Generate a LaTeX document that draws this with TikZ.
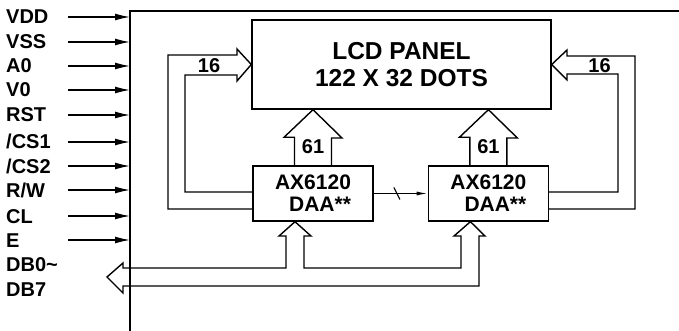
\documentclass[tikz,border=0pt]{standalone}
\usepackage{fontspec}
\setmainfont{Liberation Sans}
\usetikzlibrary{arrows.meta,positioning}

\begin{document}
\begin{tikzpicture}[
    x=1pt, y=-1pt,
    box/.style={rectangle, draw, line width=1.4pt, inner sep=0pt},
    chip/.style={minimum width=120pt, minimum height=55pt, align=right, font=\fontsize{21}{22}\selectfont\bfseries},
    pin/.style={anchor=west, inner sep=0pt, text height=14pt, text depth=0pt, font=\fontsize{20}{24}\selectfont\bfseries},
    num/.style={inner sep=0pt, font=\fontsize{20}{24}\selectfont\bfseries},
    bus/.style={line width=1.4pt, line join=miter},
    arrow/.style={-{Latex[length=15pt,width=7pt]}, line width=1.4pt},
    link/.style={-{Latex[length=11pt,width=4pt]}, line width=1.2pt}
]
    \useasboundingbox (0,0) rectangle (679,331);

    \coordinate (corner) at (130,11);
    \draw[line width=1.6pt] (130,331) -- (corner) -- (679,11);

    \foreach \y/\t [count=\i] in {17/VDD, 42/VSS, 66/A0, 90/V0, 115/RST, 142/{/CS1}, 166/{/CS2}, 190/{R/W}, 216/CL, 240/E} {
        \node[pin] (pin\i) at (6,\y) {\t};
        \coordinate (from\i) at (68,\y);
        \draw[arrow] (from\i) -- (from\i -| corner);
    }
    \node[pin] (db0) at (6,264) {DB0\textasciitilde};
    \node[pin] (db7) at (6,289) {DB7};

    \node[box, minimum width=299pt, minimum height=89pt, align=center, font=\fontsize{24.5}{27}\selectfont\bfseries] (lcd) at (401.5,64.5) {LCD PANEL\\122 X 32 DOTS};
    \node[box, chip] (chip1) at (313,193.5) {AX6120\\DAA**};
    \node[box, chip, right=54pt of chip1] (chip2) {AX6120\\DAA**};

    \foreach \c in {chip1, chip2} {
        \draw[bus] ([xshift=-18.5pt]\c.north) -- ++(0,-28) -- ++(-10.5,0) -- (\c.north |- lcd.south) -- ++(29,28.3) -- ++(-10.5,0) -- ([xshift=18.5pt]\c.north);
        \node[num] (w\c) at ([yshift=19pt]\c.north) {61};
    }

    \draw[bus] ([yshift=-15.5pt]chip1.west) -| (168,55) -- (237,55) -- (237,49) -- (lcd.west) -- (237,81) -- (237,75) -- (185,75) |- ([yshift=1.5pt]chip1.west);
    \node[num] (wl) at (209,65.5) {16};
    \draw[bus] ([yshift=-15.5pt]chip2.east) -| (635,56) -- (567,56) -- (567,50) -- (lcd.east) -- (567,80) -- (567,74) -- (618,74) |- ([yshift=1.5pt]chip2.east);
    \node[num] (wr) at (599.5,66) {16};

    \draw[link] (chip1) -- coordinate[pos=0.43] (cut) (chip2);
    \draw[line width=1.2pt] ([shift={(-3,-6)}]cut) -- ([shift={(3,6)}]cut);

    \coordinate (dbtip) at (107,277);
    \draw[bus] (dbtip) -- (123,263) -- (123,268) -| (286,236) -- (279,236) -- ([xshift=-18pt]chip1.south) -- (311,236) -- (304,236) |- (461,268) -- (461,236) -- (454,236) -- ([xshift=-18pt]chip2.south) -- (485,236) -- (479,236) |- (123,286) -- (123,293) -- cycle;
\end{tikzpicture}
\end{document}
